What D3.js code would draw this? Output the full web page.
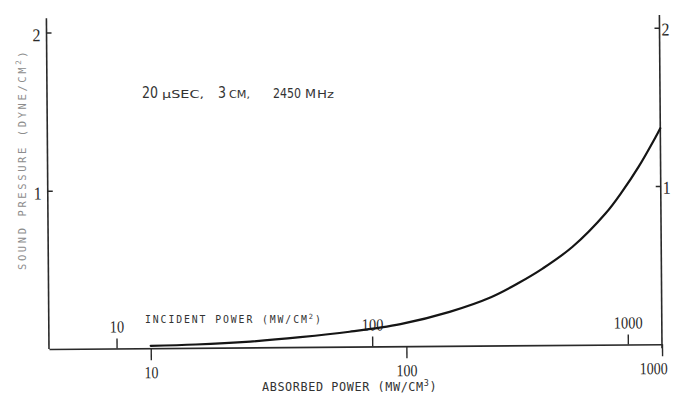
<!DOCTYPE html>
<html><head><meta charset="utf-8">
<script src="https://cdn.jsdelivr.net/npm/d3@7"></script>
<style>
html,body{margin:0;padding:0;background:#fff;}
svg{display:block;}
</style></head><body>
<svg id="chart" width="675" height="394"></svg>
<script>
// Absorbed power density (mW/cm³) and the sound pressure (dyne/cm²) it produces
const absorbedPower = [10, 15, 24.5, 38.5, 60, 95, 148, 215, 277, 344, 450, 608, 706, 821, 955, 1000];
const soundPressure = [0.015, 0.021, 0.037, 0.062, 0.094, 0.14, 0.215, 0.305, 0.395, 0.485, 0.62, 0.83, 0.966, 1.123, 1.305, 1.365];

const absorbedTicks = [10, 100, 1000];
const incidentTicks = [10, 100, 1000];
const pressureTicks = [1, 2];

// incident power density (mW/cm²) per unit of absorbed power density
const incidentPerAbsorbed = 1.36;
const absorbedDomain = [4, 1000];
const pressureDomain = [0, 2];

const svg = d3.select("#chart");
const ink = "#2a2a2a";
const serif = "'Liberation Serif','Times New Roman',serif";
const mono = "'DejaVu Sans Mono','Liberation Mono',monospace";
const cond = "'DejaVu Sans Condensed','DejaVu Sans',sans-serif";

// the plate sits a hair off square
const plot = svg.append("g").attr("transform", "rotate(-0.45 49 349)");

const x = d3.scaleLog().domain(absorbedDomain).range([49, 662]);
const xInc = d3.scaleLog().domain(absorbedDomain.map(d => d * incidentPerAbsorbed)).range([49, 662]);
const y = d3.scaleLinear().domain(pressureDomain).range([349, 32.5]);

function tickText(g, size, perChar) {
  g.selectAll("text")
    .attr("fill", ink)
    .style("font-family", serif)
    .style("font-size", size + "px")
    .attr("textLength", d => String(d).length * perChar)
    .attr("lengthAdjust", "spacingAndGlyphs");
  g.selectAll(".tick line").attr("stroke", ink).attr("stroke-width", 1.4);
}

// absorbed power axis (ticks below)
const lastAbs = absorbedTicks[absorbedTicks.length - 1];
const gAbs = plot.append("g")
  .attr("transform", `translate(0,${y(0)})`)
  .call(d3.axisBottom(x).tickValues(absorbedTicks).tickFormat(d3.format("d"))
    .tickSizeInner(12).tickSizeOuter(0));
gAbs.select(".domain").attr("stroke", ink).attr("stroke-width", 1.6);
tickText(gAbs, 17, 7);
gAbs.selectAll("text").attr("y", 30).attr("dy", 0);
// the last label is held inside the right edge
gAbs.selectAll("text").filter(d => d === lastAbs)
  .attr("text-anchor", "end").attr("dx", 5);

// incident power axis (ticks above, same baseline)
const gInc = plot.append("g")
  .attr("transform", `translate(0,${y(0)})`)
  .call(d3.axisTop(xInc).tickValues(incidentTicks).tickFormat(d3.format("d"))
    .tickSizeInner(10).tickSizeOuter(0));
gInc.select(".domain").remove();
tickText(gInc, 17, 7.2);
gInc.selectAll("text").attr("y", -16).attr("dy", 0);

// left pressure axis
plot.append("line")
  .attr("x1", x(absorbedDomain[0])).attr("x2", x(absorbedDomain[0]))
  .attr("y1", y(0)).attr("y2", y(2.09))
  .attr("stroke", ink).attr("stroke-width", 1.6);
const gLeft = plot.append("g")
  .attr("transform", `translate(${x(absorbedDomain[0])},0)`)
  .call(d3.axisLeft(y).tickValues(pressureTicks).tickFormat(d3.format("d"))
    .tickSizeInner(-5).tickSizeOuter(0).tickPadding(6));
gLeft.select(".domain").remove();
tickText(gLeft, 18, 8);
gLeft.selectAll("text").attr("dy", "0.45em");

// right pressure axis
plot.append("line")
  .attr("x1", x(absorbedDomain[1])).attr("x2", x(absorbedDomain[1]))
  .attr("y1", y(-0.025)).attr("y2", y(2.08))
  .attr("stroke", ink).attr("stroke-width", 1.6);
const gRight = plot.append("g")
  .attr("transform", `translate(${x(absorbedDomain[1])},0)`)
  .call(d3.axisRight(y).tickValues(pressureTicks).tickFormat(d3.format("d"))
    .tickSizeInner(-5).tickSizeOuter(0).tickPadding(2));
gRight.select(".domain").remove();
tickText(gRight, 18, 8);
gRight.selectAll("text").attr("dy", "0.4em");

// response curve
const line = d3.line()
  .x(d => x(d[0]))
  .y(d => y(d[1]))
  .curve(d3.curveCatmullRom.alpha(0.5));
plot.append("path")
  .datum(d3.zip(absorbedPower, soundPressure))
  .attr("d", line)
  .attr("fill", "none")
  .attr("stroke", "#151515")
  .attr("stroke-width", 2.2)
  .attr("stroke-linecap", "round");

// axis titles
function title(tx, ty, rot, size, spacing, color, main, sup) {
  const t = svg.append("text")
    .attr("transform", `translate(${tx},${ty}) rotate(${rot})`)
    .attr("fill", color)
    .style("font-family", mono)
    .style("font-size", size + "px")
    .style("letter-spacing", spacing + "px");
  t.append("tspan").text(main);
  t.append("tspan").attr("dy", -size * 0.45).style("font-size", (size * 0.72) + "px").text(sup);
  t.append("tspan").attr("dy", size * 0.45).text(")");
  return t;
}
title(26, 270, -90, 10.5, 2.6, "#8c8c8c", "SOUND PRESSURE (DYNE/CM", "2");
title(145, 323, 0, 9.8, 1.9, "#333", "INCIDENT POWER (MW/CM", "2");
title(262, 391, 0, 11.8, 0.6, "#333", "ABSORBED POWER (MW/CM", "3");

// exposure conditions
function note(str, nx, width, size) {
  svg.append("text")
    .attr("x", nx).attr("y", 98)
    .attr("fill", "#333")
    .style("font-family", cond)
    .style("font-size", size + "px")
    .attr("textLength", width)
    .attr("lengthAdjust", "spacingAndGlyphs")
    .text(str);
}
note("20", 142, 16, 15);
note("\u03bcSEC,", 162, 42, 10.5);
note("3", 218, 8, 15);
note("CM,", 229, 21, 10.5);
note("2450", 273, 28, 14.5);
note("M", 305, 11, 12);
note("Hz", 317, 17, 10.5);
</script>
</body></html>
